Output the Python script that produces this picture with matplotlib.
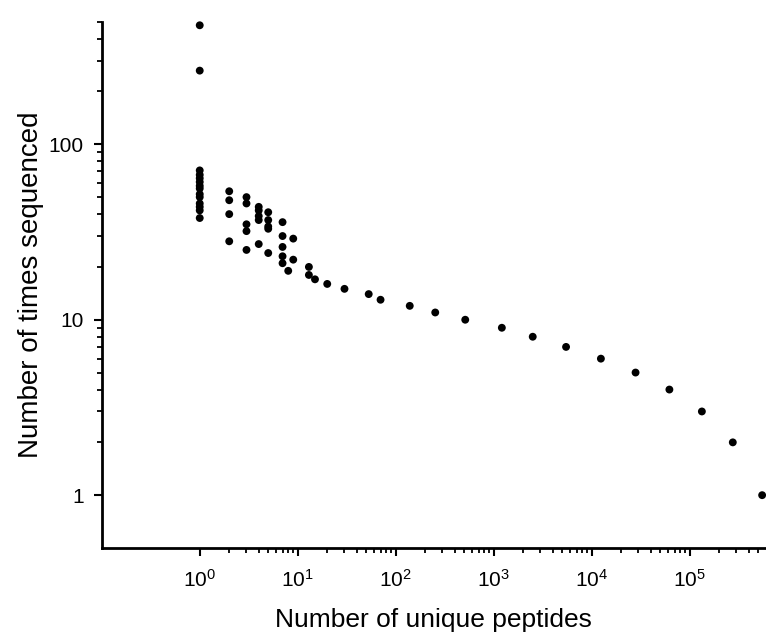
import math

import matplotlib
matplotlib.use("Agg")
import matplotlib.pyplot as plt
from matplotlib.ticker import FixedLocator, NullFormatter, FuncFormatter

# number of unique peptides (x) vs number of times each was sequenced (y)
unique_peptides = [
    548000, 275000, 133000, 62000, 28000, 12400, 5470, 2500, 1210, 512,
    253, 139, 70, 53, 30, 20, 15, 13, 8, 13,
    7, 9, 7, 5, 3, 7, 4, 2, 9, 7,
    3, 5, 5, 3, 7, 4, 5, 4, 4, 5,
    4, 2, 3, 2, 3, 2,
    1, 1, 1, 1, 1, 1, 1, 1, 1, 1, 1, 1,
    1, 1,
]
times_sequenced = [
    1, 2, 3, 4, 5, 6, 7, 8, 9, 10,
    11, 12, 13, 14, 15, 16, 17, 18, 19, 20,
    21, 22, 23, 24, 25, 26, 27, 28, 29, 30,
    32, 33, 34, 35, 36, 37, 37, 39, 42, 41,
    44, 40, 46, 48, 50, 54,
    38, 42, 44, 46, 50, 52, 56, 58, 61, 64, 67, 71,
    263, 477,
]

x_major = [1, 10, 100, 1000, 10000, 100000]
y_major = [1, 10, 100]

plt.rcParams["font.family"] = ["Liberation Sans", "DejaVu Sans"]
plt.rcParams["mathtext.fontset"] = "custom"
plt.rcParams["mathtext.rm"] = "Liberation Sans"

fig = plt.figure(figsize=(7.66, 6.36), dpi=100)
ax = fig.add_axes([0.1328, 0.1384, 0.8672, 0.8275])

ax.scatter(unique_peptides, times_sequenced, s=32, c="black", edgecolors="none",
           zorder=3, clip_on=False)

ax.set_xscale("log")
ax.set_yscale("log")
ax.set_xlim(0.1, 6.0e5)
ax.set_ylim(0.5, 500)

x_minor = [m * 10 ** k for k in range(0, 6) for m in range(2, 10) if m * 10 ** k < 6.0e5]
y_minor = [m * 10 ** k for k in range(0, 3) for m in range(2, 10) if m * 10 ** k <= 500]
ax.xaxis.set_major_locator(FixedLocator(x_major))
ax.xaxis.set_minor_locator(FixedLocator(x_minor))
ax.yaxis.set_major_locator(FixedLocator(y_major))
ax.yaxis.set_minor_locator(FixedLocator(y_minor))
ax.xaxis.set_minor_formatter(NullFormatter())
ax.yaxis.set_minor_formatter(NullFormatter())
ax.xaxis.set_major_formatter(FuncFormatter(lambda v, p: r"$\mathregular{10^{%d}}$" % round(math.log10(v))))
ax.yaxis.set_major_formatter(FuncFormatter(lambda v, p: "%d" % v))

for side in ["top", "right"]:
    ax.spines[side].set_visible(False)
for side in ["left", "bottom"]:
    ax.spines[side].set_linewidth(2.0)

ax.tick_params(which="major", direction="out", length=6, width=1.5, labelsize=15)
ax.tick_params(axis="y", which="major", pad=7)
ax.tick_params(axis="x", which="major", pad=9)
ax.tick_params(which="minor", direction="out", length=3.5, width=1.3)

ax.set_xlabel("Number of unique peptides", fontsize=19)
ax.set_ylabel("Number of times sequenced", fontsize=20)
ax.xaxis.set_label_coords(0.5, -0.114)
ax.yaxis.set_label_coords(-0.087, 0.5)

fig.savefig("out.png", dpi=100)
